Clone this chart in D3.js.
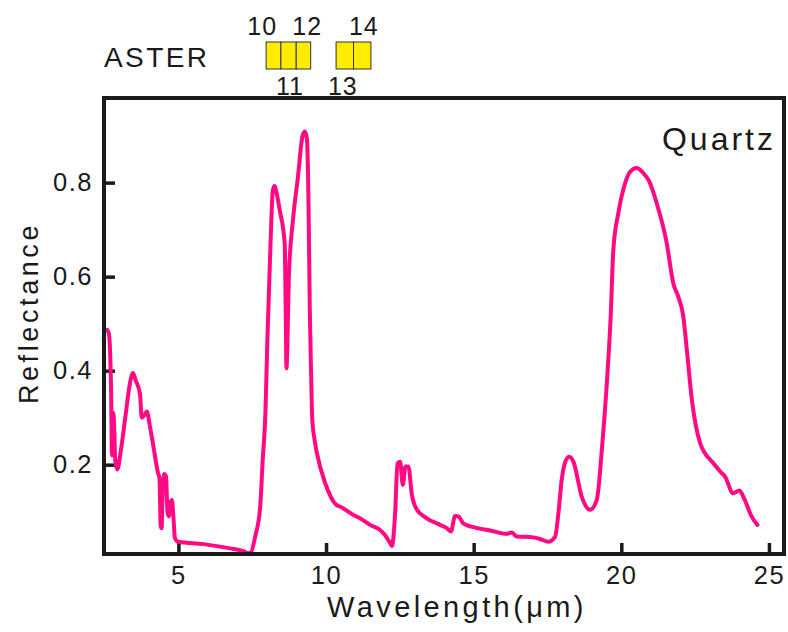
<!DOCTYPE html>
<html>
<head>
<meta charset="utf-8">
<script src="https://cdn.jsdelivr.net/npm/d3@7"></script>
<style>
    html, body { margin: 0; padding: 0; background: #fff; }
    svg { display: block; font-family: "Liberation Sans", Arial, sans-serif; }
</style>
</head>
<body>
<svg id="chart" width="788" height="632"></svg>
<script>
// Quartz reflectance spectrum
const wavelength = [
    2.58, 2.64, 2.68, 2.72, 2.75, 2.79, 2.80, 2.83, 2.86, 2.93,
    3.05, 3.20, 3.35, 3.46, 3.55, 3.70, 3.76, 3.85, 3.93, 4.04,
    4.15, 4.21, 4.30, 4.36, 4.40, 4.43, 4.47, 4.52, 4.58, 4.63,
    4.68, 4.73, 4.78, 4.83, 4.88, 4.95, 5.00, 5.85, 6.75, 7.20,
    7.37, 7.45, 7.60, 7.77, 7.85, 7.95, 8.01, 8.12, 8.20, 8.26,
    8.30, 8.43, 8.60, 8.63, 8.66, 8.69, 8.74, 8.88, 9.05, 9.20,
    9.28, 9.35, 9.41, 9.45, 9.50, 9.53, 9.62, 9.69, 9.97, 10.36,
    10.47, 10.93, 11.15, 11.49, 11.83, 12.00, 12.20, 12.23, 12.34, 12.42,
    12.51, 12.60, 12.69, 12.79, 12.90, 13.05, 13.41, 13.86, 14.09, 14.23,
    14.37, 14.48, 14.65, 14.99, 15.56, 16.12, 16.29, 16.46, 16.91, 17.25,
    17.53, 17.76, 17.87, 17.98, 18.13, 18.24, 18.38, 18.66, 18.94, 19.17,
    19.34, 19.51, 19.64, 19.73, 19.90, 20.13, 20.30, 20.52, 20.75, 20.95,
    21.20, 21.54, 21.76, 21.93, 22.10, 22.22, 22.39, 22.67, 23.12, 23.40,
    23.51, 23.79, 24.00, 24.18, 24.42, 24.61,
];
const reflectance = [
    0.487, 0.480, 0.450, 0.360, 0.220, 0.260, 0.310, 0.270, 0.210, 0.190,
    0.230, 0.300, 0.370, 0.395, 0.380, 0.350, 0.300, 0.305, 0.313, 0.280,
    0.240, 0.217, 0.185, 0.170, 0.070, 0.065, 0.150, 0.180, 0.175, 0.100,
    0.090, 0.120, 0.125, 0.090, 0.045, 0.037, 0.036, 0.031, 0.022, 0.016,
    0.012, 0.013, 0.047, 0.110, 0.204, 0.316, 0.459, 0.671, 0.785, 0.793,
    0.785, 0.742, 0.671, 0.550, 0.405, 0.450, 0.600, 0.720, 0.813, 0.898,
    0.909, 0.895, 0.742, 0.529, 0.380, 0.300, 0.250, 0.225, 0.161, 0.114,
    0.111, 0.093, 0.086, 0.072, 0.061, 0.050, 0.030, 0.027, 0.097, 0.203,
    0.206, 0.157, 0.196, 0.196, 0.139, 0.107, 0.086, 0.072, 0.065, 0.058,
    0.091, 0.090, 0.075, 0.067, 0.060, 0.053, 0.056, 0.047, 0.046, 0.042,
    0.036, 0.047, 0.097, 0.167, 0.210, 0.217, 0.206, 0.132, 0.104, 0.125,
    0.231, 0.373, 0.515, 0.657, 0.735, 0.799, 0.823, 0.831, 0.820, 0.802,
    0.756, 0.671, 0.586, 0.557, 0.515, 0.444, 0.338, 0.246, 0.203, 0.182,
    0.175, 0.139, 0.145, 0.125, 0.089, 0.072,
];

// ASTER TIR bands as drawn above the plot (µm)
const bandIds = [10, 11, 12, 13, 14];
const bandStart = [7.97, 8.47, 8.99, 10.34, 10.93];
const bandEnd = [8.47, 8.99, 9.48, 10.93, 11.52];
const bandLabelAt = [7.84, 8.78, 9.36, 10.57, 11.28];

const xTicks = [5, 10, 15, 20, 25];
const yTicks = [0.2, 0.4, 0.6, 0.8];

const LINE_COLOR = '#ff0a84';
const INK = '#1a1a1a';

function drawChart() {
    const svg = d3.select('#chart');
    svg.selectAll('*').remove();

    const frame = { left: 104, right: 784, top: 98, bottom: 554 };

    const x = d3.scaleLinear().domain([2.48, 25.51]).range([frame.left, frame.right]);
    const y = d3.scaleLinear().domain([0.01, 0.98]).range([frame.bottom, frame.top]);

    // Axes, ticks pointing inward
    const xAxis = svg.append('g')
        .attr('transform', `translate(0,${frame.bottom})`)
        .call(d3.axisBottom(x).tickValues(xTicks).tickSizeInner(-11).tickSizeOuter(0).tickPadding(12)
            .tickFormat(d3.format('d')));

    const yAxis = svg.append('g')
        .attr('transform', `translate(${frame.left},0)`)
        .call(d3.axisLeft(y).tickValues(yTicks).tickSizeInner(-11).tickSizeOuter(0).tickPadding(11)
            .tickFormat(d3.format('.1f')));

    [xAxis, yAxis].forEach(ax => {
        ax.select('.domain').remove();
        ax.selectAll('line').attr('stroke', INK).attr('stroke-width', 3.5);
        ax.selectAll('text')
            .attr('fill', INK)
            .attr('font-size', 25.5)
            .attr('letter-spacing', 1.5)
            .attr('font-family', '"Liberation Sans", Arial, sans-serif');
    });

    // Spectrum
    const points = wavelength.map((w, i) => [w, reflectance[i]]);
    const line = d3.line()
        .x(d => x(d[0]))
        .y(d => y(d[1]))
        .curve(d3.curveMonotoneX);

    svg.append('path')
        .datum(points)
        .attr('d', line)
        .attr('fill', 'none')
        .attr('stroke', LINE_COLOR)
        .attr('stroke-width', 4)
        .attr('stroke-linejoin', 'round')
        .attr('stroke-linecap', 'round');

    // Frame box
    svg.append('rect')
        .attr('x', frame.left).attr('y', frame.top)
        .attr('width', frame.right - frame.left)
        .attr('height', frame.bottom - frame.top)
        .attr('fill', 'none')
        .attr('stroke', INK)
        .attr('stroke-width', 4);

    // Axis titles
    svg.append('text')
        .attr('x', 457)
        .attr('y', 617)
        .attr('text-anchor', 'middle')
        .attr('font-size', 29)
        .attr('letter-spacing', 3.4)
        .attr('fill', INK)
        .text('Wavelength(μm)');

    svg.append('text')
        .attr('transform', 'translate(38,313) rotate(-90)')
        .attr('text-anchor', 'middle')
        .attr('font-size', 27)
        .attr('letter-spacing', 3.6)
        .attr('fill', INK)
        .text('Reflectance');

    svg.append('text')
        .attr('x', 776).attr('y', 150)
        .attr('text-anchor', 'end')
        .attr('font-size', 32)
        .attr('letter-spacing', 3)
        .attr('fill', INK)
        .text('Quartz');

    // ASTER band boxes
    svg.append('text')
        .attr('x', 104).attr('y', 67)
        .attr('font-size', 28)
        .attr('letter-spacing', 2.4)
        .attr('fill', INK)
        .text('ASTER');

    const bands = bandIds.map((id, i) => ({
        id, start: bandStart[i], end: bandEnd[i], labelAt: bandLabelAt[i],
    }));

    svg.selectAll('.band')
        .data(bands)
        .join('rect')
        .attr('class', 'band')
        .attr('x', d => x(d.start))
        .attr('y', 42)
        .attr('width', d => x(d.end) - x(d.start))
        .attr('height', 27)
        .attr('fill', '#ffec00')
        .attr('stroke', '#333')
        .attr('stroke-width', 1);

    svg.selectAll('.band-label')
        .data(bands)
        .join('text')
        .attr('class', 'band-label')
        .attr('x', d => x(d.labelAt))
        .attr('y', d => d.id % 2 === 0 ? 35 : 95)
        .attr('text-anchor', 'middle')
        .attr('font-size', 25)
        .attr('letter-spacing', 1)
        .attr('fill', INK)
        .text(d => d.id);
}

drawChart();
</script>
</body>
</html>
